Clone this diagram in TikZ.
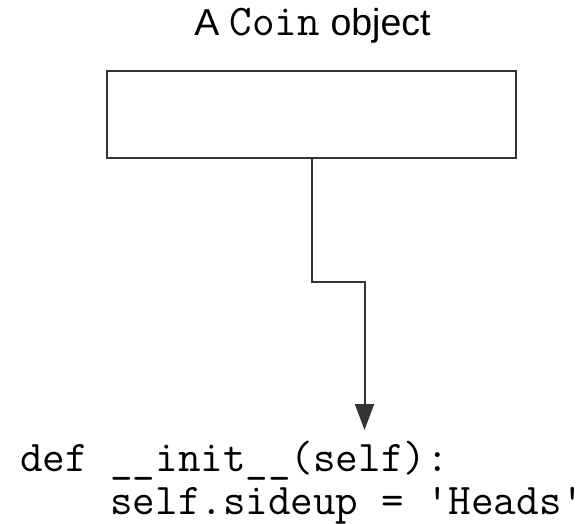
\documentclass[tikz,border=0pt]{standalone}
\usepackage{fontspec}
\setmainfont{Liberation Sans}
\usetikzlibrary{arrows.meta}
\definecolor{ink}{HTML}{333333}
\newcommand{\codesize}{\fontsize{43.8}{43}\selectfont}
\tikzset{
  objbox/.style={draw=ink, line width=2pt, minimum width=409pt, minimum height=87pt, inner sep=0pt},
  link/.style={draw=ink, line width=2pt, -{Triangle[length=26pt, width=19pt]}},
  label/.style={inner sep=0pt, font=\fontsize{37.5}{40}\selectfont},
  code/.style={inner sep=0pt, align=left, font=\codesize\ttfamily}
}
\begin{document}
\begin{tikzpicture}[x=1pt, y=-1pt]
  \useasboundingbox (0,0) rectangle (587,524);
  % heading above the instance box
  \node[label, anchor=base] (title) at (312.5,36) {A {\codesize\ttfamily Coin} object};
  % the instance itself
  \node[objbox] (obj) at (311.5,114.5) {};
  % the constructor that runs when it is created (base anchor = last line)
  \node[code, anchor=base west] (ctor) at (20,514)
    {def \_\_init\_\_(self):\\\hphantom{def }self.sideup = 'Heads'};
  \coordinate (elbow) at (364.5,282);
  \coordinate (tip) at (364.5,430);
  \draw[link] (obj.south) |- (elbow) -- (tip);
\end{tikzpicture}
\end{document}
